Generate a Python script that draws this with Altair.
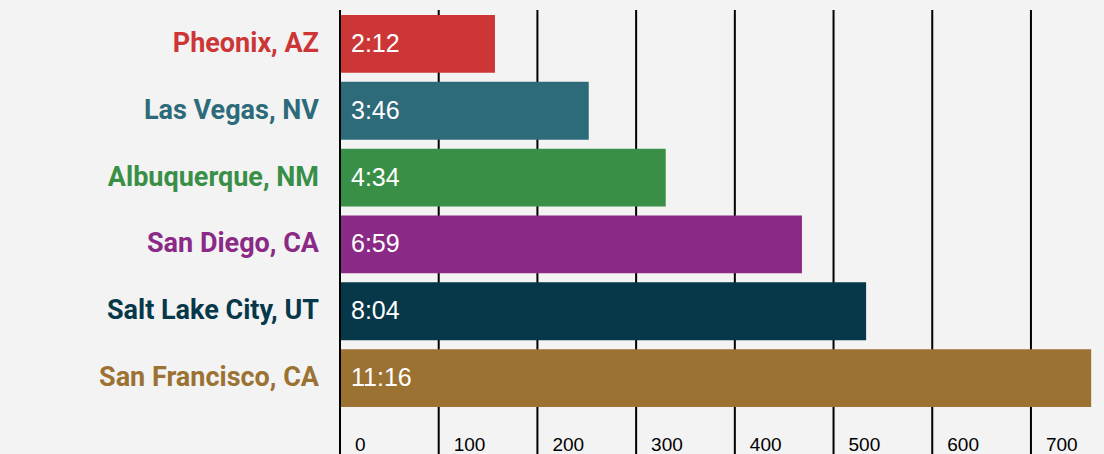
import altair as alt
import pandas as pd

cities = ["Pheonix, AZ", "Las Vegas, NV", "Albuquerque, NM", "San Diego, CA",
          "Salt Lake City, UT", "San Francisco, CA"]
bar_values = [157, 252, 330, 468, 533, 761]
time_labels = ["2:12", "3:46", "4:34", "6:59", "8:04", "11:16"]
colors = ["#cc3636", "#2d6a7a", "#3a8f47", "#8a2a86", "#06384a", "#9c7233"]
ticks = [0, 100, 200, 300, 400, 500, 600, 700]

df = pd.DataFrame({"city": cities, "value": bar_values, "label": time_labels})
tdf = pd.DataFrame({"tick": ticks})

xscale = alt.Scale(domain=[0, 774], nice=False)
yenc = alt.Y("city:N", sort=cities, axis=None,
             scale=alt.Scale(range=[5, 397], paddingInner=0.135, paddingOuter=0))
cenc = alt.Color("city:N", scale=alt.Scale(domain=cities, range=colors), legend=None)

grid = alt.Chart(tdf).mark_rule(color="black", strokeWidth=2).encode(
    x=alt.X("tick:Q", scale=xscale, axis=None),
    y=alt.value(0), y2=alt.value(444))

tick_text = alt.Chart(tdf).mark_text(align="left", baseline="alphabetic", dx=15,
                                      fontSize=19, font="Liberation Sans", color="black").encode(
    x=alt.X("tick:Q", scale=xscale, axis=None),
    y=alt.value(441), text="tick:Q")

bars = alt.Chart(df).mark_bar(cornerRadius=0).encode(
    x=alt.X("value:Q", scale=xscale, axis=None),
    y=yenc, color=cenc)

zero = alt.Chart(tdf).transform_filter("datum.tick == 0").mark_rule(
    color="black", strokeWidth=2).encode(
    x=alt.X("tick:Q", scale=xscale, axis=None),
    y=alt.value(0), y2=alt.value(444))

cat_text = alt.Chart(df).mark_text(align="right", baseline="middle", dx=-21,
                                    fontSize=27, fontWeight="bold",
                                    font="Roboto").encode(
    x=alt.value(0), y=yenc, color=cenc, text="city:N")

val_text = alt.Chart(df).mark_text(align="left", baseline="middle", dx=11,
                                    fontSize=25, font="Liberation Sans",
                                    color="white").encode(
    x=alt.value(0), y=yenc, text="label:N")

chart = alt.layer(grid, tick_text, bars, zero, cat_text, val_text).properties(
    width=764, height=444,
    autosize=alt.AutoSizeParams(type="none"),
    padding={"left": 340, "top": 10, "right": 0, "bottom": 0},
    background="#f3f3f3",
).configure_view(stroke=None)

chart.save("out.html", embed_options={"renderer": "svg", "actions": False})
